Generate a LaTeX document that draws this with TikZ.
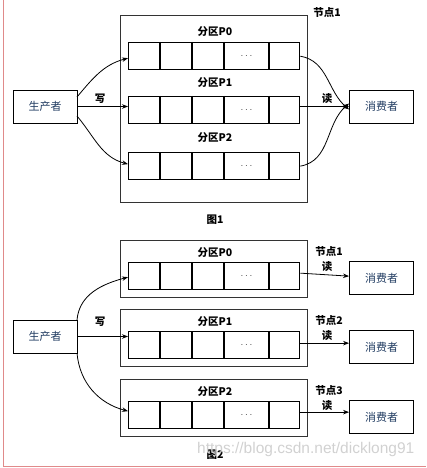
\documentclass[tikz,border=0pt]{standalone}
\usepackage{fontspec}
\setmainfont{Liberation Sans}
\newfontfamily\cjk{Noto Sans CJK SC}
\usetikzlibrary{arrows.meta}
\definecolor{txtblue}{HTML}{1F3A60}
\definecolor{frame}{HTML}{E08A8A}
\tikzset{
  x=1pt,y=-1pt,
  nodebox/.style={draw=black!80,line width=0.8pt,minimum width=187pt,anchor=north west,inner sep=0pt},
  qrow/.style={draw,line width=1.3pt,minimum width=171pt,minimum height=27pt,inner sep=0pt,anchor=north west},
  actor/.style={draw,line width=0.9pt,minimum width=64pt,minimum height=33pt,inner sep=0pt,font=\cjk\fontsize{11}{12}\selectfont,text=txtblue},
  lbl/.style={font=\cjk\bfseries\fontsize{10.5}{12}\selectfont,inner sep=0pt},
  arr/.style={-{Stealth[length=6pt,width=4.5pt]},line width=0.8pt}
}
\newcommand{\cells}[1]{%
  \foreach \xx in {32,64,96,141}{\draw[line width=1.3pt] ([xshift=\xx pt]#1.north west) -- ([xshift=\xx pt]#1.south west);}
  \node[font=\fontsize{10}{10}\selectfont,text=black!75] at ([xshift=118.5pt]#1.west) {$\cdots$};}
\begin{document}
\begin{tikzpicture}
\useasboundingbox (0,0) rectangle (426,468);
\draw[frame,line width=1pt] (3,0) -- (3,466) -- (426,466);
% ---------- figure 1
\node[nodebox,minimum height=187pt] (n1) at (120,15) {};
\node[lbl] (n1l) at (327,12) {节点1};
\node[lbl] (l0) at (215,32) {分区P0};
\node[qrow] (r0) at (128,42) {}; \cells{r0}
\node[lbl] (l1) at (215,83) {分区P1};
\node[qrow] (r1) at (128,96) {}; \cells{r1}
\node[lbl] (l2) at (215,138) {分区P2};
\node[qrow] (r2) at (128,152) {}; \cells{r2}
\node[actor] (prod) at (45,106.5) {生产者};
\node[actor] (cons) at (381.5,106.5) {消费者};
\coordinate (pt) at (77,97);
\coordinate (pb) at (77,116);
\draw[arr] (pt) to[out=50,in=195] ([yshift=-2pt]r0.west);
\draw[arr] (prod.east) -- (prod.east -| r1.west);
\draw[arr] (pb) to[out=-50,in=165] ([yshift=2pt]r2.west);
\draw[arr] (r0.east) to[out=-10,in=140] ([yshift=-3pt]cons.west);
\draw[arr] (r1.east |- cons.west) -- (cons.west);
\draw[arr] (r2.east) to[out=10,in=-140] ([yshift=3pt]cons.west);
\node[lbl] (w1) at (100,99) {写};
\node[lbl] (rd1) at (327,99) {读};
\node[lbl] (f1) at (215,220) {图1};
% ---------- figure 2
\foreach \i/\top/\rtop/\nm in {0/240/262/1,1/309/331/2,2/379/401/3}{
  \node[nodebox,minimum height=57pt] (b\i) at (120,\top) {};
  \node[lbl] (bl\i) at (215,\top+13) {分区P\i};
  \node[qrow] (q\i) at (128,\rtop) {};
  \node[lbl] (nd\i) at (329,\top+11) {节点\nm};
  \node[lbl] (rd\i) at (327,\top+27) {读};
  \node[actor] (c\i) at (381.5,\rtop+16) {消费者};
}
\cells{q0}\cells{q1}\cells{q2}
\draw[arr] ([yshift=3pt]q0.east) -- (q0.east -| c0.west);
\draw[arr] ([yshift=2pt]q1.east) -- ([yshift=2pt]q1.east -| c1.west);
\draw[arr] ([yshift=3pt]q2.east) -- ([yshift=3pt]q2.east -| c2.west);
\node[actor] (prod2) at (45,336.5) {生产者};
\coordinate (qt) at (77,320);
\coordinate (qb) at (77,353);
\draw[arr] (qt) to[out=85,in=195] ([yshift=-1pt]q0.west);
\draw[arr] (prod2.east) -- (prod2.east -| q1.west);
\draw[arr] (qb) to[out=-85,in=165] ([yshift=4pt]q2.west);
\node[lbl] (w2) at (100,322) {写};
\node[lbl] (f2) at (215,455) {图2};
\node[text=black!18,font=\fontsize{15.5}{16}\selectfont,anchor=west,inner sep=0pt] (wm) at (197,449) {https://blog.csdn.net/dicklong91};
\end{tikzpicture}
\end{document}
